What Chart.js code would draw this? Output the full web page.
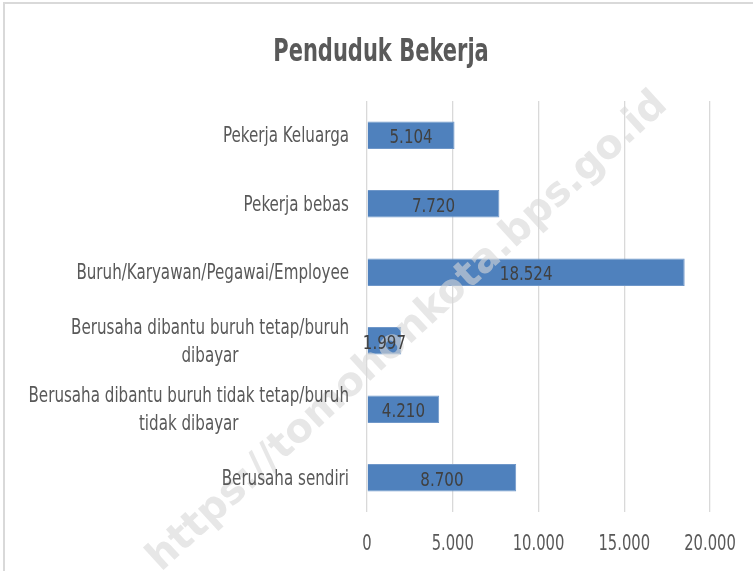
<!DOCTYPE html>
<html>
<head>
<meta charset="utf-8">
<script src="https://cdn.jsdelivr.net/npm/chart.js@4"></script>
<style>
  html, body { margin: 0; padding: 0; background: #fff; }
  #wrap { position: relative; width: 753px; height: 571px; overflow: hidden; }
  #frame { position: absolute; left: 3px; top: 2px; width: 800px; height: 600px;
           border-left: 2px solid #d9d9d9; border-top: 2px solid #d9d9d9; }
  canvas { position: absolute; left: 0; top: 0; }
</style>
</head>
<body>
<div id="wrap">
  <div id="frame"></div>
  <canvas id="grafik" width="753" height="571"></canvas>
</div>
<script>
/* Data */
const judul = "Penduduk Bekerja";
const kategori = [
  ["Pekerja Keluarga"],
  ["Pekerja bebas"],
  ["Buruh/Karyawan/Pegawai/Employee"],
  ["Berusaha dibantu buruh tetap/buruh", "dibayar"],
  ["Berusaha dibantu buruh tidak tetap/buruh", "tidak dibayar"],
  ["Berusaha sendiri"]
];
const nilai = [5104, 7720, 18524, 1997, 4210, 8700];
const tickNilai = [0, 5000, 10000, 15000, 20000];

const huruf = "'DejaVu Sans Condensed', 'DejaVu Sans', sans-serif";

function titik(n) {
  return String(n).replace(/\B(?=(\d{3})+(?!\d))/g, ".");
}

// teks yang dipersempit (mirip Calibri)
function tulis(ctx, teks, x, y, sx) {
  ctx.save();
  ctx.translate(x, y);
  ctx.scale(sx, 1);
  ctx.fillText(teks, 0, 0);
  ctx.restore();
}

/* Watermark, judul, label kategori, tick dan nilai */
const labelPlugin = {
  id: "labelPlugin",
  afterDatasetsDraw(chart) {
    const ctx = chart.ctx;
    const x = chart.scales.x;
    const y = chart.scales.y;
    const meta = chart.getDatasetMeta(0);

    // watermark
    ctx.save();
    ctx.translate(408, 332);
    ctx.rotate(-42.5 * Math.PI / 180);
    ctx.font = "bold 40px 'DejaVu Sans', sans-serif";
    ctx.fillStyle = "rgba(215, 215, 215, 0.6)";
    ctx.textAlign = "center";
    ctx.textBaseline = "middle";
    ctx.fillText("https://tomohonkota.bps.go.id", 0, 0);
    ctx.restore();

    ctx.save();
    ctx.textBaseline = "alphabetic";
    ctx.textAlign = "center";

    // judul
    ctx.font = "bold 32px " + huruf;
    ctx.fillStyle = "#595959";
    tulis(ctx, judul, 381, 61, 0.73);

    // kategori
    const sxLabel = 0.82;
    ctx.font = "20.5px " + huruf;
    kategori.forEach((baris, i) => {
      const cy = y.getPixelForValue(i);
      const lebar = Math.max(...baris.map(t => ctx.measureText(t).width)) * sxLabel;
      const cx = 349 - lebar / 2;
      baris.forEach((t, j) => {
        tulis(ctx, t, cx, cy + 7 + (j - (baris.length - 1) / 2) * 28, sxLabel);
      });
    });

    // tick sumbu x
    ctx.font = "20.5px " + huruf;
    tickNilai.forEach(v => {
      tulis(ctx, titik(v), x.getPixelForValue(v), 550, 0.8);
    });

    // nilai di tengah batang
    ctx.font = "19.5px " + huruf;
    ctx.fillStyle = "#404040";
    meta.data.forEach((bar, i) => {
      const cx = (bar.x + bar.base) / 2;
      tulis(ctx, titik(nilai[i]), cx, bar.y + 8, 0.86);
    });
    ctx.restore();
  }
};

const config = {
  type: "bar",
  data: {
    labels: kategori,
    datasets: [
      {
        data: nilai,
        backgroundColor: "#4f81bd",
        borderColor: "#6f97c9",
        borderWidth: 1,
        categoryPercentage: 0.8,
        barPercentage: 0.5
      }
    ]
  },
  options: {
    indexAxis: "y",
    responsive: false,
    animation: false,
    layout: { padding: { left: 367, right: 43, top: 101, bottom: 59 } },
    plugins: {
      legend: { display: false },
      tooltip: { enabled: false },
      title: { display: false }
    },
    scales: {
      x: {
        min: 0,
        max: 20000,
        afterBuildTicks(scale) {
          scale.ticks = tickNilai.map(v => ({ value: v }));
        },
        grid: { color: "#d9d9d9", lineWidth: 1.3, drawTicks: false },
        border: { display: false },
        ticks: { display: false }
      },
      y: {
        display: false
      }
    }
  },
  plugins: [labelPlugin]
};

const grafik = new Chart(document.getElementById("grafik"), config);
</script>
</body>
</html>
